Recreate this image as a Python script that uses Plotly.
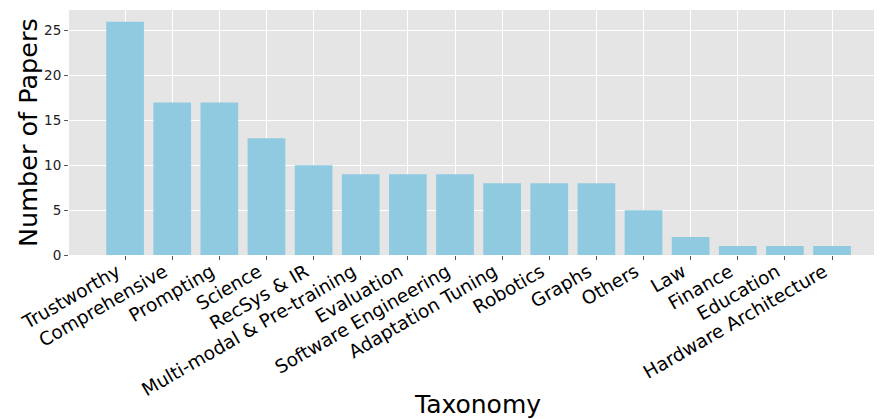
import plotly.graph_objects as go

categories = ["Trustworthy", "Comprehensive", "Prompting", "Science", "RecSys & IR",
              "Multi-modal & Pre-training", "Evaluation", "Software Engineering",
              "Adaptation Tuning", "Robotics", "Graphs", "Others", "Law", "Finance",
              "Education", "Hardware Architecture"]
papers = [26, 17, 17, 13, 10, 9, 9, 9, 8, 8, 8, 5, 2, 1, 1, 1]
y_ticks = [0, 5, 10, 15, 20, 25]

fig = go.Figure(go.Bar(
    x=list(range(len(categories))), y=papers, width=0.8,
    marker=dict(color="#8FCAE0", line=dict(width=0)),
))

fig.update_layout(
    width=874, height=411,
    margin=dict(l=61, r=0, t=2, b=164),
    paper_bgcolor="white", plot_bgcolor="#E5E5E5",
    font=dict(family="DejaVu Sans", color="black"),
    showlegend=False,
    annotations=[
        dict(text="Number of Papers", xref="paper", yref="paper", x=-0.051, y=0.5,
             xanchor="center", yanchor="middle", textangle=-90, showarrow=False,
             font=dict(size=25.5, color="black")),
        dict(text="Taxonomy", xref="paper", yref="paper", x=0.503, y=-0.612,
             xanchor="center", yanchor="middle", showarrow=False,
             font=dict(size=25, color="black")),
    ],
)
fig.update_xaxes(
    range=[-1.19, 16.06], automargin=False,
    tickmode="array", tickvals=list(range(len(categories))), ticktext=categories,
    tickangle=-30, tickfont=dict(size=18.5, color="black"),
    ticklabelstandoff=-6, ticklabelshift=-8,
    ticks="outside", ticklen=4, tickcolor="#555555", tickwidth=1,
    showgrid=True, gridcolor="white", gridwidth=1.2,
    zeroline=False, showline=False,
)
fig.update_yaxes(
    range=[0, 27.3], automargin=False,
    tickmode="array", tickvals=y_ticks,
    tickfont=dict(size=13.5, color="#222222"),
    ticks="outside", ticklen=4, tickcolor="#555555", tickwidth=1,
    showgrid=True, gridcolor="white", gridwidth=1.2,
    zeroline=False, showline=False,
)

fig.write_html("out.html")
